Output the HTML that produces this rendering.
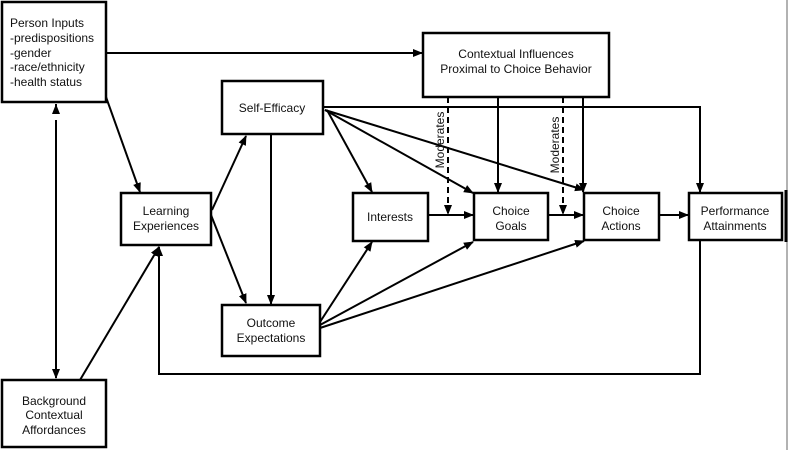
<!DOCTYPE html>
<html><head><style>body{margin:0;background:#fff}svg{display:block}text{font-family:"Liberation Sans",sans-serif;font-size:12px;fill:#111}</style></head>
<body>
<svg width="788" height="450" viewBox="0 0 788 450">
<defs><marker id="a" markerWidth="10" markerHeight="10" refX="9" refY="5" orient="auto" markerUnits="userSpaceOnUse"><path d="M0,1 L10,5 L0,9 z" fill="#000"/></marker></defs>
<line x1="787" y1="0" x2="787" y2="450" stroke="#999" stroke-width="1.5"/>
<g fill="none" stroke="#000" stroke-width="2.5">
<rect x="2" y="2" width="104" height="100"/>
<rect x="423" y="33" width="186" height="64"/>
<rect x="222" y="81" width="101" height="53"/>
<rect x="121" y="193" width="90" height="52"/>
<rect x="353" y="193" width="75" height="48"/>
<rect x="474" y="193" width="74" height="47"/>
<rect x="584" y="193" width="75" height="47"/>
<rect x="689" y="193" width="93" height="47"/>
<rect x="222" y="305" width="98" height="51"/>
<rect x="2" y="380" width="104" height="67"/>
</g>
<line x1="786" y1="190" x2="786" y2="242" stroke="#000" stroke-width="3"/>
<g stroke="#000" stroke-width="2" fill="none" marker-end="url(#a)">
<line x1="106" y1="53" x2="422" y2="53"/>
<line x1="106" y1="97" x2="140" y2="192"/>
<line x1="56" y1="120" x2="56" y2="378"/>
<line x1="80" y1="380" x2="159" y2="247"/>
<line x1="212" y1="210" x2="246" y2="136"/>
<line x1="211" y1="215" x2="246" y2="303"/>
<line x1="271" y1="134" x2="271" y2="304"/>
<polyline points="323,107 700,107 700,192"/>
<line x1="327" y1="110" x2="372" y2="192"/>
<line x1="325" y1="110" x2="473" y2="193"/>
<line x1="325" y1="110" x2="584" y2="190"/>
<line x1="498" y1="97" x2="498" y2="192"/>
<line x1="583" y1="97" x2="583" y2="192"/>
<line x1="428" y1="215" x2="473" y2="215"/>
<line x1="548" y1="215" x2="583" y2="215"/>
<line x1="659" y1="215" x2="688" y2="215"/>
<line x1="320" y1="322" x2="372" y2="242"/>
<line x1="320" y1="325" x2="473" y2="242"/>
<line x1="320" y1="328" x2="584" y2="241"/>
<polyline points="700,240 700,374 159,374 159,247"/>
<line x1="448" y1="97" x2="448" y2="214" stroke-dasharray="6,4"/>
<line x1="563" y1="97" x2="563" y2="214" stroke-dasharray="6,4"/>
</g>
<line x1="56" y1="110" x2="56" y2="105" stroke="#000" stroke-width="2" marker-end="url(#a)"/>
<line x1="56" y1="112" x2="56" y2="104" stroke="#000" stroke-width="2"/>
<text x="10" y="27">Person Inputs</text>
<text x="10" y="42">-predispositions</text>
<text x="10" y="57">-gender</text>
<text x="10" y="71">-race/ethnicity</text>
<text x="10" y="86">-health status</text>
<g text-anchor="middle">
<text x="516" y="58">Contextual Influences</text>
<text x="516" y="73">Proximal to Choice Behavior</text>
<text x="272" y="112">Self-Efficacy</text>
<text x="166" y="215">Learning</text>
<text x="166" y="230">Experiences</text>
<text x="390" y="221">Interests</text>
<text x="511" y="215">Choice</text>
<text x="511" y="230">Goals</text>
<text x="621" y="215">Choice</text>
<text x="621" y="230">Actions</text>
<text x="735" y="215">Performance</text>
<text x="735" y="230">Attainments</text>
<text x="271" y="327">Outcome</text>
<text x="271" y="342">Expectations</text>
<text x="54" y="405">Background</text>
<text x="54" y="419">Contextual</text>
<text x="54" y="434">Affordances</text>
<text transform="translate(444,140) rotate(-90)">Moderates</text>
<text transform="translate(559,145) rotate(-90)">Moderates</text>
</g>
</svg>
</body></html>
